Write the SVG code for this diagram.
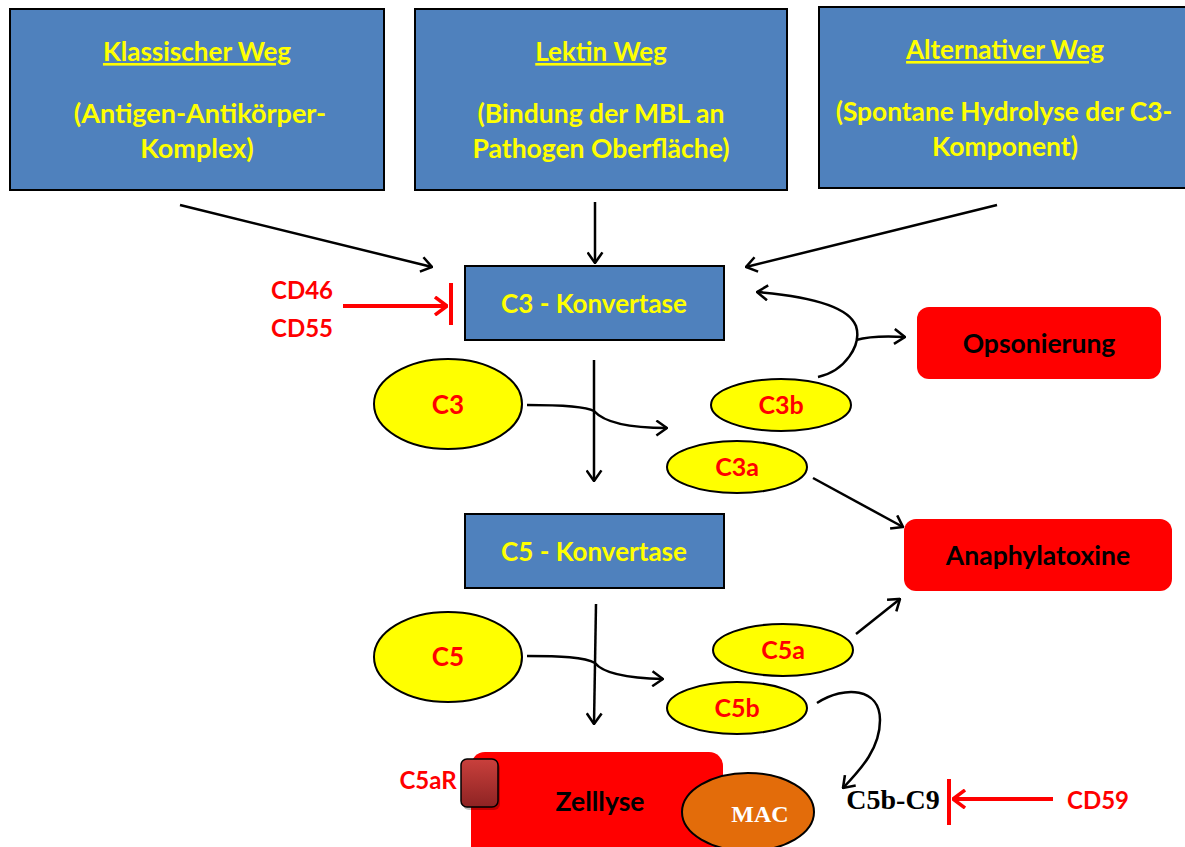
<svg xmlns="http://www.w3.org/2000/svg" width="1185" height="847" viewBox="0 0 1185 847">
<defs>
<marker id="ah" viewBox="0 0 12 16" refX="11" refY="8" markerWidth="13" markerHeight="17" markerUnits="userSpaceOnUse" orient="auto">
<path d="M1,1 L11,8 L1,15" fill="none" stroke="#000" stroke-width="2.4"/>
</marker>
<marker id="ahr" viewBox="0 0 14 20" refX="13" refY="10" markerWidth="14" markerHeight="20" markerUnits="userSpaceOnUse" orient="auto">
<path d="M1,1 L13,10 L1,19" fill="none" stroke="#f00" stroke-width="3.5"/>
</marker>
<linearGradient id="rg" x1="0" y1="0" x2="0" y2="1">
<stop offset="0" stop-color="#c9403c"/>
<stop offset="1" stop-color="#8e2323"/>
</linearGradient>
</defs>
<style>
.box{fill:#4f81bd;stroke:#000;stroke-width:2}
.ytx{fill:#ffff00;font-family:Lato,"Liberation Sans",sans-serif;font-weight:bold;text-anchor:middle}
.h{text-decoration:underline}
.ell{fill:#ffff00;stroke:#000;stroke-width:2}
.rtx{fill:#ff0000;font-family:Lato,"Liberation Sans",sans-serif;font-weight:bold;text-anchor:middle}
.res{fill:#ff0000}
.btx{fill:#000;font-family:Lato,"Liberation Sans",sans-serif;font-weight:bold;text-anchor:middle}
.ln{fill:none;stroke:#000;stroke-width:2.5;marker-end:url(#ah)}
.rl{fill:none;stroke:#f00;stroke-width:4}
</style>
<rect width="1185" height="847" fill="#fff"/>
<g id="klassisch">
<rect class="box" x="10" y="9" width="374" height="181"/>
<text class="ytx h" x="197" y="61" font-size="26">Klassischer Weg</text>
<text class="ytx" x="200" y="123" font-size="27">(Antigen-Antikörper-</text>
<text class="ytx" x="197" y="158" font-size="27">Komplex)</text>
</g>
<g id="lektin">
<rect class="box" x="415" y="9" width="372" height="181"/>
<text class="ytx h" x="601" y="61" font-size="26">Lektin Weg</text>
<text class="ytx" x="601" y="123" font-size="26.5">(Bindung der MBL an</text>
<text class="ytx" x="601" y="158" font-size="26.5">Pathogen Oberfläche)</text>
</g>
<g id="alternativ">
<rect class="box" x="819" y="7" width="372" height="181"/>
<text class="ytx h" x="1005" y="59" font-size="26">Alternativer Weg</text>
<text class="ytx" x="1004" y="121" font-size="26.3">(Spontane Hydrolyse der C3-</text>
<text class="ytx" x="1005" y="156" font-size="26.5">Komponent)</text>
</g>
<g id="c3konv">
<rect class="box" x="465" y="266" width="259" height="74"/>
<text class="ytx" x="594" y="313" font-size="26">C3 - Konvertase</text>
</g>
<g id="c5konv">
<rect class="box" x="465" y="514" width="259" height="74"/>
<text class="ytx" x="594" y="561" font-size="26">C5 - Konvertase</text>
</g>
<g id="c3">
<ellipse class="ell" cx="448" cy="404" rx="74" ry="45"/>
<text class="rtx" x="448" y="414" font-size="26">C3</text>
</g>
<g id="c3b">
<ellipse class="ell" cx="781" cy="405" rx="70" ry="26"/>
<text class="rtx" x="781" y="414" font-size="25">C3b</text>
</g>
<g id="c3a">
<ellipse class="ell" cx="737" cy="467" rx="70" ry="26"/>
<text class="rtx" x="737" y="476" font-size="25">C3a</text>
</g>
<g id="c5">
<ellipse class="ell" cx="448" cy="657" rx="74" ry="45"/>
<text class="rtx" x="448" y="666" font-size="26">C5</text>
</g>
<g id="c5a">
<ellipse class="ell" cx="783" cy="650" rx="70" ry="26"/>
<text class="rtx" x="783" y="659" font-size="25">C5a</text>
</g>
<g id="c5b">
<ellipse class="ell" cx="737" cy="708" rx="70" ry="26"/>
<text class="rtx" x="737" y="717" font-size="25">C5b</text>
</g>
<g id="opsonierung">
<rect class="res" x="917" y="307" width="244" height="72" rx="12"/>
<text class="btx" x="1039" y="353" font-size="26.5">Opsonierung</text>
</g>
<g id="anaphylatoxine">
<rect class="res" x="904" y="519" width="268" height="72" rx="12"/>
<text class="btx" x="1038" y="565" font-size="26.5">Anaphylatoxine</text>
</g>
<g id="zelllyse">
<rect class="res" x="471" y="752" width="252" height="110" rx="14"/>
<text class="btx" x="600" y="811" font-size="26.5">Zelllyse</text>
</g>
<g id="c5ar">
<rect x="463" y="762" width="37" height="48" rx="6" fill="#000" opacity="0.25"/>
<rect x="461" y="759" width="37" height="48" rx="6" fill="url(#rg)" stroke="#000" stroke-width="1.5"/>
<text class="rtx" x="428" y="789" font-size="24">C5aR</text>
</g>
<g id="mac">
<ellipse cx="748" cy="812" rx="66" ry="39" fill="#e36c0a" stroke="#000" stroke-width="2"/>
<text x="760" y="822" font-size="24" fill="#fff" font-weight="bold" text-anchor="middle" font-family="'Liberation Serif',serif">MAC</text>
</g>
<g id="c5bc9">
<text x="893" y="809" font-size="28" fill="#000" font-weight="bold" text-anchor="middle" font-family="'Liberation Serif',serif">C5b-C9</text>
</g>
<g id="cd4655">
<text class="rtx" x="302" y="299" font-size="24">CD46</text>
<text class="rtx" x="302" y="337" font-size="24">CD55</text>
</g>
<g id="cd59">
<text class="rtx" x="1098" y="809" font-size="24">CD59</text>
</g>
<g id="connectors">
<path class="ln" d="M180,205 L432,267"/>
<path class="ln" d="M595,202 L595,263"/>
<path class="ln" d="M997,205 L746,267"/>
<path class="ln" d="M594,360 L594,481"/>
<path class="ln" d="M527,405 C560,405 585,406 594,411 C602,420 620,428 667,428"/>
<path class="ln" d="M818,377 C845,371 862,345 856,326 C848,305 805,296 757,292"/>
<path class="ln" d="M856,340 C870,336 888,336 905,337"/>
<path class="ln" d="M813,478 L903,527"/>
<path class="ln" d="M596,604 L594,724"/>
<path class="ln" d="M527,656 C560,656 585,657 595,663 C602,672 620,678 663,679"/>
<path class="ln" d="M856,634 L900,599"/>
<path class="ln" d="M817,703 C845,685 880,688 880,720 C880,748 862,768 843,788"/>
<path class="rl" d="M343,306 L447,306" marker-end="url(#ahr)"/>
<path class="rl" d="M451,283 L451,325"/>
<path class="rl" d="M1053,799 L953,799" marker-end="url(#ahr)"/>
<path class="rl" d="M949,779 L949,825"/>
</g>
</svg>
